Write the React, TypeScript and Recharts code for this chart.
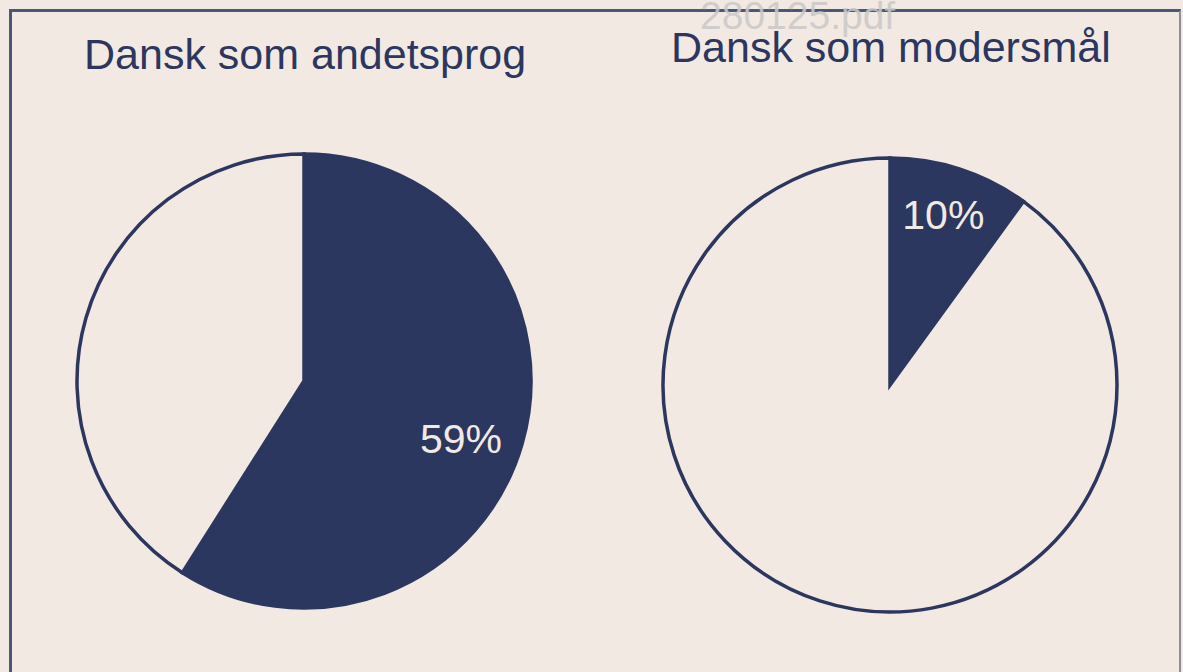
import React from "react";
import { PieChart, Pie, Cell } from "recharts";

const charts = ["Dansk som andetsprog", "Dansk som modersmål"];
const shareA = [
  { name: "Ja", value: 59 },
  { name: "Nej", value: 41 },
];
const shareB = [
  { name: "Ja", value: 10 },
  { name: "Nej", value: 90 },
];

const NAVY = "#2b375e";
const BG = "#f3e9e3";
const RAD = Math.PI / 180;

const makeLabel = (factor: number, dy: number) => (props: any) => {
  const { cx, cy, midAngle, outerRadius, index, value } = props;
  if (index !== 0) return null;
  const r = outerRadius * factor;
  const x = cx + r * Math.cos(-midAngle * RAD);
  const y = cy + r * Math.sin(-midAngle * RAD) + dy;
  return (
    <text
      x={x}
      y={y}
      fill={BG}
      fontSize={41}
      fontFamily="Liberation Sans, Arial, sans-serif"
      textAnchor="middle"
      dominantBaseline="central"
    >
      {value}%
    </text>
  );
};

export default function App() {
  return (
    <div
      style={{
        position: "absolute",
        left: 0,
        top: 0,
        width: 1183,
        height: 672,
        background: BG,
        overflow: "hidden",
        fontFamily: "Liberation Sans, Arial, sans-serif",
      }}
    >
      <div
        style={{
          position: "absolute",
          left: 9,
          top: 9,
          width: 1172,
          height: 700,
          borderTop: "3px solid #4a5878",
          borderLeft: "3px solid #4a5878",
          borderRight: "2px solid #8a8f9a",
          boxSizing: "border-box",
        }}
      />
      <div
        style={{
          position: "absolute",
          left: 700,
          top: -4,
          fontSize: 39,
          lineHeight: "40px",
          color: "#c9c9c9",
          opacity: 0.85,
          whiteSpace: "nowrap",
        }}
      >
        280125.pdf
      </div>
      <div
        style={{
          position: "absolute",
          left: 84,
          top: 30,
          fontSize: 43,
          color: NAVY,
          whiteSpace: "nowrap",
        }}
      >
        {charts[0]}
      </div>
      <div
        style={{
          position: "absolute",
          left: 671,
          top: 23,
          fontSize: 43,
          color: NAVY,
          whiteSpace: "nowrap",
        }}
      >
        {charts[1]}
      </div>
      <div style={{ position: "absolute", left: 0, top: 0 }}>
        <PieChart width={1183} height={672} margin={{ top: 0, right: 0, bottom: 0, left: 0 }}>
          <Pie
            data={shareA}
            dataKey="value"
            cx={304}
            cy={381}
            outerRadius={227}
            startAngle={90}
            endAngle={-270}
            stroke={NAVY}
            strokeWidth={3.5}
            isAnimationActive={false}
            labelLine={false}
            label={makeLabel(0.72, 12)}
          >
            <Cell fill={NAVY} />
            <Cell fill={BG} />
          </Pie>
          <Pie
            data={shareB}
            dataKey="value"
            cx={890}
            cy={385}
            outerRadius={227}
            startAngle={90}
            endAngle={-270}
            stroke={NAVY}
            strokeWidth={3.5}
            isAnimationActive={false}
            labelLine={false}
            label={makeLabel(0.76, -6)}
          >
            <Cell fill={NAVY} />
            <Cell fill={BG} />
          </Pie>
        </PieChart>
      </div>
    </div>
  );
}
